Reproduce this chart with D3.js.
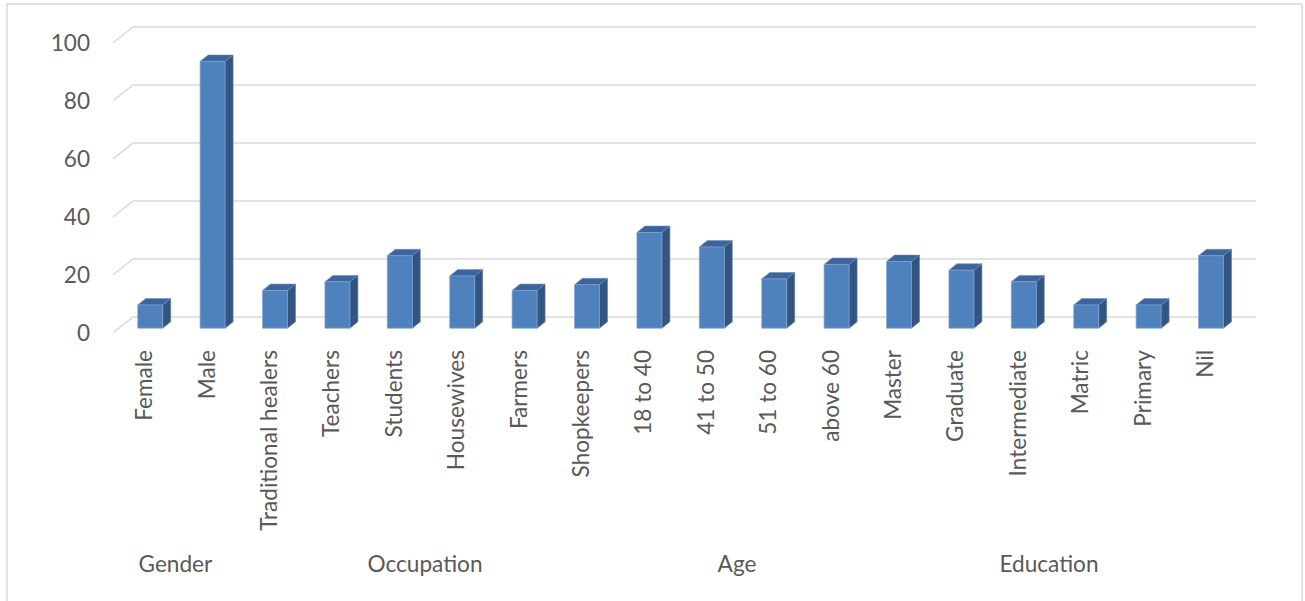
<!DOCTYPE html>
<html>
<head>
<meta charset="utf-8">
<script src="https://cdn.jsdelivr.net/npm/d3@7"></script>
<style>
  html, body { margin: 0; padding: 0; background: #fff; }
  svg { display: block; }
</style>
</head>
<body>
<svg id="chart" width="1305" height="601"></svg>
<script>
// ---- data ----
const categories = ["Female", "Male", "Traditional healers", "Teachers", "Students", "Housewives",
  "Farmers", "Shopkeepers", "18 to 40", "41 to 50", "51 to 60", "above 60",
  "Master", "Graduate", "Intermediate", "Matric", "Primary", "Nil"];
const values = [8, 92, 13, 16, 25, 18, 13, 15, 33, 28, 17, 22, 23, 20, 16, 8, 8, 25];
const groupNames = ["Gender", "Occupation", "Age", "Education"];
const groupSizes = [2, 6, 4, 6];
const yTicks = [0, 20, 40, 60, 80, 100];

(function () {
// ---- layout ----
const svg = d3.select("#chart");
const font = "Lato, 'Open Sans', sans-serif";
const textColor = "#595959";
const gridColor = "#d9d9d9";

// 3D depth offsets (front plane -> back wall)
const depthDX = 20, depthDY = -16;
const barZ0 = 0.3, barZ1 = 0.7;

const x = d3.scaleBand().domain(categories).range([113, 1236.2]).paddingInner(0.6).paddingOuter(0.3);
const y = d3.scaleLinear().domain([0, 100]).range([333, 43]);
const step = x.step();
const frontLeft = 113, frontRight = 1236.2;

function proj(px, v, z) { return [px + z * depthDX, y(v) + z * depthDY]; }

// fit font size to Calibri-like metrics
const probe = svg.append("text").attr("font-family", font).attr("font-size", 100).text("Education");
const fs = Math.round(99 / probe.node().getComputedTextLength() * 100 * 10) / 10;
probe.remove();

// outer border
svg.append("rect").attr("x", 7).attr("y", 4).attr("width", 1295).attr("height", 600)
  .attr("fill", "none").attr("stroke", gridColor).attr("stroke-width", 1.5);

// gridlines: left wall diagonals + back wall horizontals
const grid = svg.append("g").attr("stroke", gridColor).attr("stroke-width", 1.6).attr("fill", "none");
yTicks.forEach(t => {
  const a = proj(frontLeft, t, 0), b = proj(frontLeft, t, 1), c = proj(frontRight, t, 1);
  grid.append("path").attr("d", `M${a[0]},${a[1]}L${b[0]},${b[1]}L${c[0]},${c[1]}`);
});

// y labels
svg.append("g").selectAll("text").data(yTicks).join("text")
  .attr("x", 90).attr("y", d => y(d)).attr("dy", "0.35em")
  .attr("text-anchor", "end").attr("font-family", font).attr("font-size", fs)
  .attr("fill", textColor).text(d => d);

// bars
const frontCol = "#4f81bd", sideCol = "#33547f", topCol = "#3d659c";
const bars = svg.append("g");
categories.forEach((c, i) => {
  const v = values[i];
  const x0 = x(c), x1 = x(c) + x.bandwidth();
  const fbl = proj(x0, 0, barZ0), fbr = proj(x1, 0, barZ0), ftl = proj(x0, v, barZ0), ftr = proj(x1, v, barZ0);
  const bbr = proj(x1, 0, barZ1), btl = proj(x0, v, barZ1), btr = proj(x1, v, barZ1);
  const g = bars.append("g").attr("stroke-linejoin", "round");
  g.append("path").attr("d", `M${fbr}L${bbr}L${btr}L${ftr}Z`).attr("fill", sideCol)
    .attr("stroke", "#5a7eab").attr("stroke-width", 0.6);
  g.append("path").attr("d", `M${ftl}L${ftr}L${btr}L${btl}Z`).attr("fill", topCol)
    .attr("stroke", "#6a8fc0").attr("stroke-width", 0.6);
  g.append("path").attr("d", `M${fbl}L${fbr}L${ftr}L${ftl}Z`).attr("fill", frontCol)
    .attr("stroke", "#7ea4d4").attr("stroke-width", 0.7);
});

// category labels (rotated)
svg.append("g").selectAll("text").data(categories).join("text")
  .attr("transform", d => `translate(${x(d) + x.bandwidth() / 2},350) rotate(-90)`)
  .attr("text-anchor", "end").attr("dy", "0.35em")
  .attr("font-family", font).attr("font-size", fs).attr("fill", textColor)
  .text(d => d);

// group labels
let start = 0;
const groupG = svg.append("g");
groupNames.forEach((name, gi) => {
  const n = groupSizes[gi];
  const cx = frontLeft + step * (start + n / 2);
  groupG.append("text").attr("x", cx).attr("y", 564).attr("dy", "0.35em")
    .attr("text-anchor", "middle").attr("font-family", font).attr("font-size", fs)
    .attr("fill", textColor).text(name);
  start += n;
});
})();
</script>
</body>
</html>
